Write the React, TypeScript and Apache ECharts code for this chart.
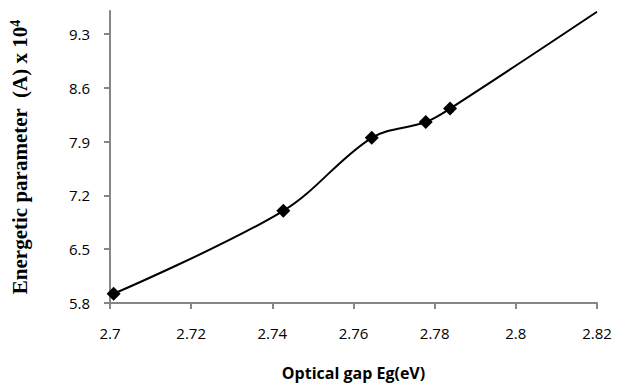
import React, { useEffect, useRef } from "react";
import * as echarts from "echarts";

const xValues = [2.7009, 2.7427, 2.7645, 2.7778, 2.7838, 2.82];
const yValues = [5.92, 7.0, 7.95, 8.155, 8.33, 9.59];
const markerShown = [true, true, true, true, true, false];
const xTicks = { min: 2.7, max: 2.82, interval: 0.02 };
const yTicks = { min: 5.8, max: 9.6, interval: 0.7 };
const yTickValues = [5.8, 6.5, 7.2, 7.9, 8.6, 9.3];

export default function App() {
  const ref = useRef<HTMLDivElement>(null);
  useEffect(() => {
    if (!ref.current) return;
    const chart = echarts.init(ref.current, null, { renderer: "svg" });
    const axisColor = "#868686";
    chart.setOption({
      animation: false,
      grid: { left: 107, right: 22, top: 11, bottom: 86 },
      xAxis: {
        type: "value",
        min: xTicks.min,
        max: xTicks.max,
        interval: xTicks.interval,
        name: "Optical gap Eg(eV)",
        nameLocation: "middle",
        nameGap: 62,
        nameTextStyle: { fontFamily: "Open Sans", fontWeight: "bold", fontSize: 16, color: "#000" },
        axisLine: { lineStyle: { color: axisColor, width: 2 } },
        axisTick: { show: true, length: 6, lineStyle: { color: axisColor, width: 2 } },
        axisLabel: {
          color: "#000",
          fontFamily: "Open Sans",
          fontSize: 15,
          margin: 22,
          formatter: (v: number) => String(parseFloat(v.toFixed(2))),
        },
        splitLine: { show: false },
      },
      yAxis: {
        type: "value",
        min: yTicks.min,
        max: yTicks.max,
        interval: yTicks.interval,
        name: "Energetic parameter  (A) x 10{sup|4}",
        nameLocation: "middle",
        nameGap: 78,
        nameTextStyle: {
          fontFamily: "Liberation Serif",
          fontWeight: "bold",
          fontSize: 21,
          color: "#000",
          rich: {
            sup: {
              fontFamily: "Liberation Serif",
              fontWeight: "bold",
              fontSize: 14,
              color: "#000",
              verticalAlign: "top",
              padding: [0, 0, 10, 0],
            },
          },
        },
        axisLine: { show: true, lineStyle: { color: axisColor, width: 2 } },
        axisTick: {
          show: true,
          length: 6,
          customValues: yTickValues,
          lineStyle: { color: axisColor, width: 2 },
        },
        axisLabel: {
          color: "#000",
          fontFamily: "Open Sans",
          fontSize: 15,
          margin: 20,
          customValues: yTickValues,
          formatter: (v: number) => v.toFixed(1),
        },
        splitLine: { show: false },
      },
      series: [
        {
          type: "line",
          smooth: 0.35,
          symbol: "diamond",
          symbolSize: 14,
          itemStyle: { color: "#000" },
          lineStyle: { color: "#000", width: 2 },
          data: xValues.map((x, i) => ({
            value: [x, yValues[i]],
            symbol: markerShown[i] ? "diamond" : "none",
          })),
        },
      ],
    });
    return () => chart.dispose();
  }, []);
  return <div ref={ref} style={{ width: 619, height: 389, position: "absolute", left: 0, top: 0 }} />;
}
